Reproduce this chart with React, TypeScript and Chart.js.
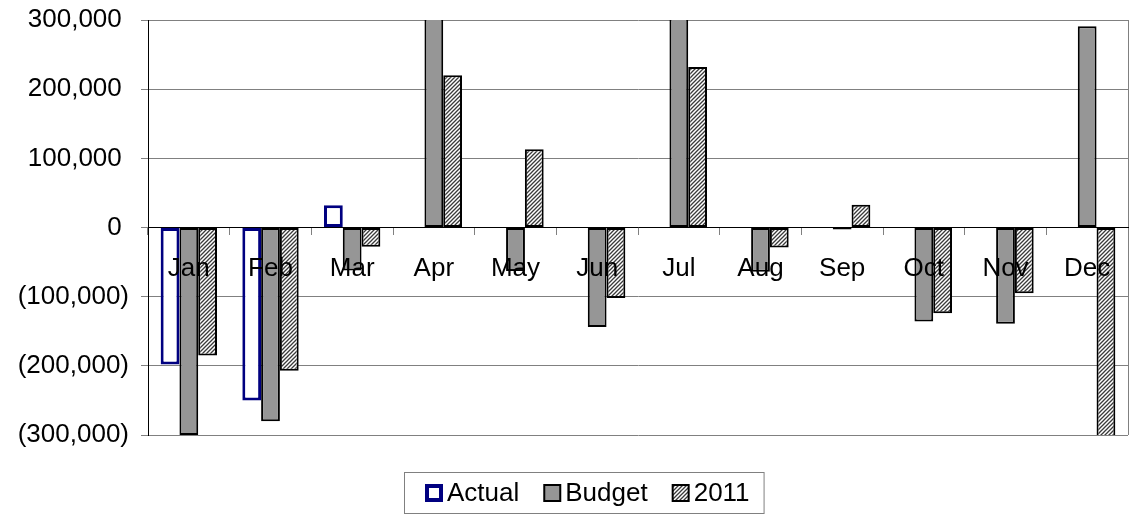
import { useEffect, useRef } from 'react';
import { Chart, registerables } from 'chart.js';

Chart.register(...registerables);

// Monthly variance figures
const months = ['Jan', 'Feb', 'Mar', 'Apr', 'May', 'Jun', 'Jul', 'Aug', 'Sep', 'Oct', 'Nov', 'Dec'];
const actualValues: (number | null)[] = [-198000, -250000, 32000, null, null, null, null, null, null, null, null, null];
const budgetValues = [-300000, -280000, -62000, 360000, -63000, -144000, 350000, -64000, -3000, -136000, -139000, 291000];
const priorYearValues = [-185000, -207000, -28000, 220000, 113000, -102000, 232000, -29000, 33000, -124000, -95000, -340000];
const seriesLabels = ['Actual', 'Budget', '2011'];

const AXIS_MIN = -300000;
const AXIS_MAX = 300000;
const AXIS_STEP = 100000;

const FONT_FAMILY = '"Liberation Sans", Arial, sans-serif';
const GRID_GRAY = '#808080';

function formatAccounting(v: number): string {
  const abs = Math.abs(v).toLocaleString('en-US');
  return v < 0 ? `(${abs})` : `${abs} `;
}

function makeHatch(): CanvasPattern | string {
  const c = document.createElement('canvas');
  c.width = 4;
  c.height = 4;
  const g = c.getContext('2d');
  if (!g) return '#bbb';
  g.fillStyle = '#ffffff';
  g.fillRect(0, 0, 4, 4);
  g.strokeStyle = '#3a3a3a';
  g.lineWidth = 1.3;
  g.beginPath();
  g.moveTo(-1, 5);
  g.lineTo(5, -1);
  g.moveTo(-1, 1);
  g.lineTo(1, -1);
  g.moveTo(3, 5);
  g.lineTo(5, 3);
  g.stroke();
  const p = g.createPattern(c, 'repeat');
  return p || '#bbb';
}

// Right-hand frame edge of the plot area
const plotFrame = {
  id: 'plotFrame',
  beforeDatasetsDraw(chart: any) {
    const { ctx, chartArea } = chart;
    ctx.save();
    ctx.strokeStyle = GRID_GRAY;
    ctx.lineWidth = 1;
    ctx.beginPath();
    ctx.moveTo(Math.round(chartArea.right) + 0.5, chartArea.top);
    ctx.lineTo(Math.round(chartArea.right) + 0.5, chartArea.bottom);
    ctx.stroke();
    ctx.restore();
  },
};

// Boxed legend below the plot
const boxedLegend = {
  id: 'boxedLegend',
  afterDraw(chart: any) {
    const { ctx } = chart;
    const sw = 18;
    const gapText = 4;
    const gapItem = 24;
    const padL = 21;
    const padR = 14;
    const left = 404;
    const top = 472;
    const height = 41;
    ctx.save();
    ctx.font = `26px ${FONT_FAMILY}`;
    const items = chart.data.datasets.map((ds: any) => ({
      label: ds.label as string,
      w: ctx.measureText(ds.label).width,
      fill: ds.backgroundColor,
      stroke: ds.borderColor,
      bw: ds.legendBorder as number,
    }));
    let contentW = 0;
    items.forEach((it: any, i: number) => {
      contentW += sw + gapText + it.w + (i ? gapItem : 0);
    });
    const width = padL + contentW + padR;
    ctx.fillStyle = '#ffffff';
    ctx.fillRect(left, top, width, height);
    ctx.strokeStyle = GRID_GRAY;
    ctx.lineWidth = 1;
    ctx.strokeRect(left + 0.5, top + 0.5, width, height);
    const cy = top + height / 2;
    let x = left + padL;
    items.forEach((it: any) => {
      const by = Math.round(cy - sw / 2);
      ctx.fillStyle = it.stroke;
      ctx.fillRect(x, by, sw, sw);
      ctx.fillStyle = it.fill;
      ctx.fillRect(x + it.bw, by + it.bw, sw - 2 * it.bw, sw - 2 * it.bw);
      ctx.fillStyle = '#000000';
      ctx.textBaseline = 'middle';
      ctx.textAlign = 'left';
      ctx.fillText(it.label, x + sw + gapText, cy + 1);
      x += sw + gapText + it.w + gapItem;
    });
    ctx.restore();
  },
};

export default function App() {
  const canvasRef = useRef<HTMLCanvasElement | null>(null);

  useEffect(() => {
    const canvas = canvasRef.current;
    if (!canvas) return;
    const hatch = makeHatch();
    const chart = new Chart(canvas, {
      type: 'bar',
      data: {
        labels: months,
        datasets: [
          {
            label: seriesLabels[0],
            data: actualValues,
            backgroundColor: '#ffffff',
            borderColor: '#000080',
            borderWidth: 3,
            legendBorder: 4,
          } as any,
          {
            label: seriesLabels[1],
            data: budgetValues,
            backgroundColor: '#969696',
            borderColor: '#000000',
            borderWidth: 2,
            legendBorder: 2,
          } as any,
          {
            label: seriesLabels[2],
            data: priorYearValues,
            backgroundColor: hatch,
            borderColor: '#000000',
            borderWidth: 2,
            legendBorder: 2,
          } as any,
        ],
      },
      options: {
        responsive: false,
        animation: false,
        devicePixelRatio: 1,
        layout: { padding: { left: 0, right: 11, top: 20, bottom: 79 } },
        datasets: {
          bar: {
            categoryPercentage: 0.69,
            barPercentage: 1,
            borderSkipped: false,
            clip: 0,
          } as any,
        },
        plugins: {
          legend: { display: false },
          tooltip: { enabled: false },
        },
        scales: {
          x: {
            position: { y: 0 } as any,
            offset: true,
            grid: {
              offset: true,
              drawOnChartArea: false,
              drawTicks: true,
              tickLength: 7,
              color: GRID_GRAY,
              z: 1,
            },
            border: { display: true, color: '#000000', width: 1, z: 1 },
            ticks: {
              color: '#000000',
              font: { size: 26, family: FONT_FAMILY },
              padding: 19,
              maxRotation: 0,
              autoSkip: false,
              z: 2,
            },
          },
          y: {
            min: AXIS_MIN,
            max: AXIS_MAX,
            afterFit: (scale: any) => {
              scale.width = 148;
            },
            grid: { color: GRID_GRAY, tickLength: 7 },
            border: { display: true, color: '#000000', width: 1 },
            ticks: {
              stepSize: AXIS_STEP,
              color: '#000000',
              font: { size: 26, family: FONT_FAMILY, lineHeight: 0.3 },
              padding: 12,
              callback: (v: any) => formatAccounting(Number(v)),
            },
          },
        },
      },
      plugins: [plotFrame, boxedLegend],
    });
    return () => chart.destroy();
  }, []);

  return (
    <div style={{ position: 'absolute', left: 0, top: 0, width: 1139, height: 514, background: '#ffffff' }}>
      <canvas ref={canvasRef} width={1139} height={514} style={{ display: 'block' }} />
    </div>
  );
}
